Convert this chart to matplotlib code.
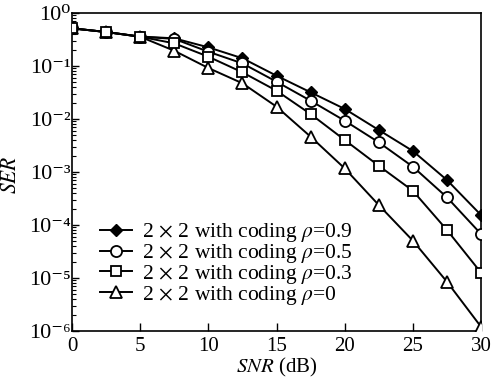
import math
import matplotlib
matplotlib.use("Agg")
import matplotlib.pyplot as plt
from matplotlib.ticker import FixedLocator, FuncFormatter, LogLocator, NullFormatter

plt.rcParams['font.family'] = ['Liberation Serif', 'DejaVu Serif']
plt.rcParams['mathtext.fontset'] = 'stix'

snr = [0, 2.5, 5, 7.5, 10, 12.5, 15, 17.5, 20, 22.5, 25, 27.5, 30]
ser_rho09 = [0.514, 0.438, 0.36, 0.333, 0.225, 0.140, 0.0656, 0.0319, 0.0155, 0.0062, 0.00249, 0.000706, 0.000154]
ser_rho05 = [0.514, 0.438, 0.357, 0.325, 0.186, 0.112, 0.0506, 0.0221, 0.00929, 0.00363, 0.00126, 0.000333, 6.76e-5]
ser_rho03 = [0.514, 0.438, 0.357, 0.268, 0.150, 0.076, 0.0342, 0.0124, 0.00402, 0.00131, 0.000442, 8.05e-5, 1.26e-5]
ser_rho0 = [0.514, 0.438, 0.357, 0.194, 0.0917, 0.0472, 0.0171, 0.00464, 0.00117, 0.000238, 5.06e-5, 8.5e-6, 1.2e-6]
labels = [r'2$\,\times\,$2 with coding $\rho$=0.9', r'2$\,\times\,$2 with coding $\rho$=0.5',
          r'2$\,\times\,$2 with coding $\rho$=0.3', r'2$\,\times\,$2 with coding $\rho$=0']
xticks = [0, 5, 10, 15, 20, 25, 30]

SUP = str.maketrans('-0123456789', '\u207b\u2070\u00b9\u00b2\u00b3\u2074\u2075\u2076\u2077\u2078\u2079')

def ylab(v, p):
    e = round(math.log10(v))
    return '10' + str(e).translate(SUP)

fig = plt.figure(figsize=(4.98, 3.85), dpi=100)
ax = fig.add_axes([0.1446, 0.1403, 0.8213, 0.8259])

lw = 1.4
ax.plot(snr, ser_rho0, color='black', lw=lw, marker='^', ms=8, mfc='white', mec='black', mew=1.3, label=labels[3], zorder=3)
ax.plot(snr, ser_rho09, color='black', lw=lw, marker='D', ms=6, mfc='black', mec='black', mew=1.0, label=labels[0], zorder=4)
ax.plot(snr, ser_rho05, color='black', lw=lw, marker='o', ms=8, mfc='white', mec='black', mew=1.3, label=labels[1], zorder=5)
ax.plot(snr, ser_rho03, color='black', lw=lw, marker='s', ms=7, mfc='white', mec='black', mew=1.3, label=labels[2], zorder=6)

ax.set_yscale('log')
ax.set_xlim(0, 30)
ax.set_ylim(1e-6, 1)
ax.xaxis.set_major_locator(FixedLocator(xticks))
ax.yaxis.set_major_locator(LogLocator(base=10, numticks=10))
ax.yaxis.set_minor_locator(LogLocator(base=10, subs=range(2, 10), numticks=10))
ax.yaxis.set_minor_formatter(NullFormatter())
ax.yaxis.set_major_formatter(FuncFormatter(ylab))

ax.tick_params(axis='both', which='both', direction='in', top=False, right=False)
ax.tick_params(axis='y', which='major', length=5, width=1.0, labelsize=16, pad=1)
ax.tick_params(axis='y', which='minor', length=3, width=0.8)
ax.tick_params(axis='x', which='major', length=6, width=1.0, labelsize=15, pad=4)
for s in ax.spines.values():
    s.set_linewidth(1.2)

ax.set_xlabel(r'$\it{SNR}$ (dB)', fontsize=15, labelpad=0)
ax.set_ylabel(r'$\it{SER}$', fontsize=15.5)
ax.yaxis.set_label_coords(-0.125, 0.49)

handles, labs = ax.get_legend_handles_labels()
order = [1, 2, 3, 0]
leg = ax.legend([handles[i] for i in order], [labs[i] for i in order],
                loc='upper left', bbox_to_anchor=(0.068, 0.345), frameon=False,
                fontsize=15.5, borderpad=0, borderaxespad=0, handlelength=1.5,
                handletextpad=0.45, labelspacing=-0.1)

fig.savefig('out.png', dpi=100)
